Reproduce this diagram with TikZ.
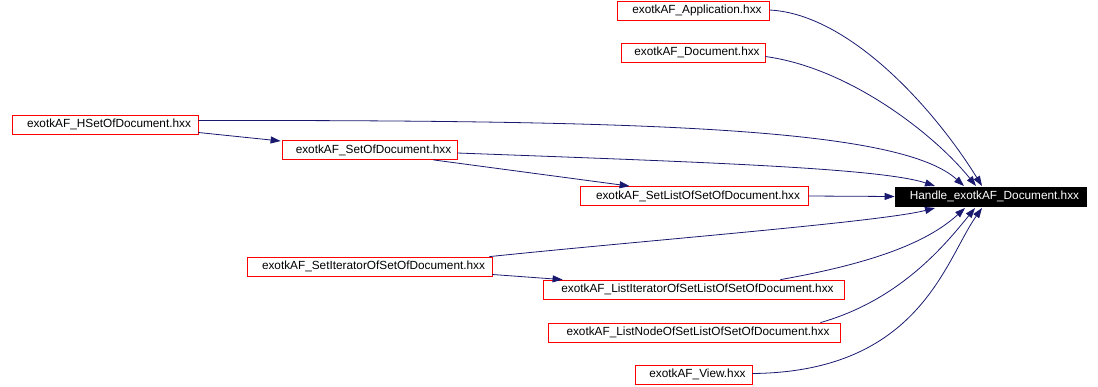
\documentclass[tikz,border=0pt]{standalone}
\usepackage{fontspec}
\setmainfont{Liberation Sans}
\usetikzlibrary{arrows.meta}
\definecolor{edgeblue}{HTML}{191970}
\tikzset{
  box/.style={draw=red, line width=0.8pt, fill=white, inner sep=0pt, minimum height=19pt,
    font=\fontsize{11.8}{13}\selectfont, text=black, anchor=center},
  hbox/.style={box, draw=black, fill=black, text=white},
  edge/.style={draw=edgeblue, line width=0.8pt, -{Triangle[length=10pt,width=7pt]}},
}
\begin{document}
\begin{tikzpicture}[x=1pt,y=-1pt]
\useasboundingbox (0,0) rectangle (1098,386);
\node[box, minimum width=152pt] (app) at (693,10.5) {\hspace{8pt}exotkAF\_Application.hxx};
\node[box, minimum width=144pt] (doc) at (693,52.5) {\hspace{8pt}exotkAF\_Document.hxx};
\node[box, minimum width=186pt] (hset) at (105,124.5) {\hspace{8pt}exotkAF\_HSetOfDocument.hxx};
\node[box, minimum width=175pt] (setof) at (369.5,150) {\hspace{8pt}exotkAF\_SetOfDocument.hxx};
\node[box, minimum width=228pt] (setlist) at (694,196) {\hspace{8pt}exotkAF\_SetListOfSetOfDocument.hxx};
\node[hbox, minimum width=191pt] (h) at (990.5,196.5) {\hspace{8pt}Handle\_exotkAF\_Document.hxx};
\node[box, minimum width=245pt] (setit) at (369.5,266.5) {\hspace{8pt}exotkAF\_SetIteratorOfSetOfDocument.hxx};
\node[box, minimum width=301pt] (listit) at (693.5,289.5) {\hspace{8pt}exotkAF\_ListIteratorOfSetListOfSetOfDocument.hxx};
\node[box, minimum width=292pt] (listnode) at (694,332.5) {\hspace{8pt}exotkAF\_ListNodeOfSetListOfSetOfDocument.hxx};
\node[box, minimum width=117pt] (view) at (693.5,374.5) {\hspace{8pt}exotkAF\_View.hxx};

\coordinate (t1) at (982,186);
\coordinate (t2) at (976,186);
\coordinate (t3) at (964,186);
\coordinate (t4) at (935,186);
\coordinate (b1) at (935,208);
\coordinate (b2) at (965,208);
\coordinate (b3) at (975,208);
\coordinate (b4) at (982,208);

\draw[edge] ([yshift=0.5pt]app.east) .. controls (850,14) and (935,110) .. (t1);
\draw[edge] ([yshift=-4pt]doc.east) .. controls (850,68) and (935,135) .. (t2);
\draw[edge] ([yshift=4pt]hset.east) .. controls (650,120) and (900,128) .. (t3);
\draw[edge] ([yshift=-8pt]hset.east) -- ([xshift=-1pt,yshift=9pt]setof.west);
\draw[edge] ([yshift=-3pt]setof.east) .. controls (700,162) and (880,168) .. (t4);
\draw[edge] ([xshift=-24pt]setof.south east) -- ([xshift=50pt]setlist.north west);
\draw[edge] (setlist.east) -- (h.west);
\draw[edge] ([xshift=-3pt]setit.north east) .. controls (650,240) and (880,222) .. (b1);
\draw[edge] ([yshift=-8pt]setit.east) -- ([xshift=20pt]listit.north west);
\draw[edge] ([xshift=-64pt]listit.north east) .. controls (880,262) and (930,240) .. (b2);
\draw[edge] ([xshift=-20pt]listnode.north east) .. controls (900,300) and (945,245) .. (b3);
\draw[edge] ([yshift=1pt]view.east) .. controls (920,372) and (945,260) .. (b4);
\end{tikzpicture}
\end{document}
